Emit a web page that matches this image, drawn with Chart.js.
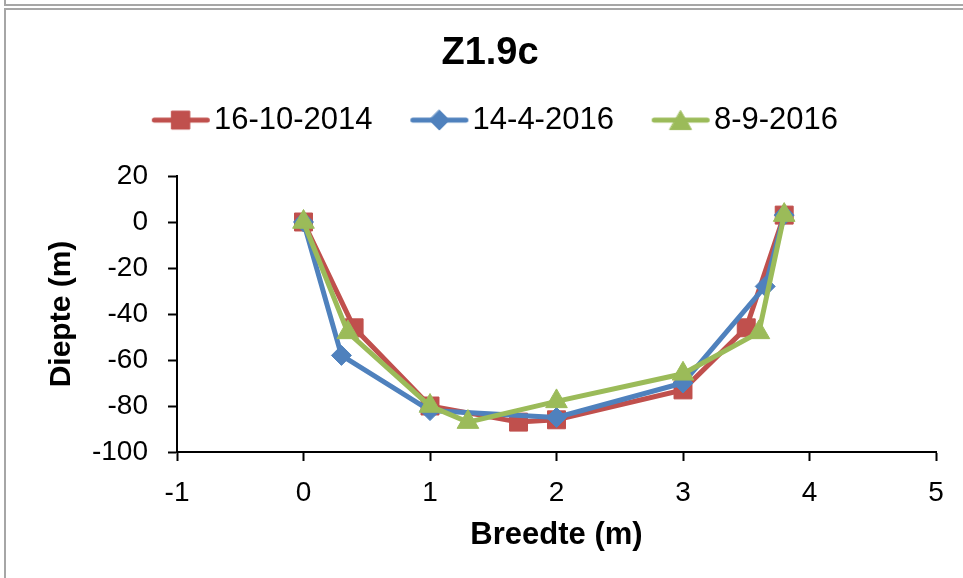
<!DOCTYPE html>
<html><head><meta charset="utf-8">
<script src="https://cdn.jsdelivr.net/npm/chart.js@4.4.1/dist/chart.umd.min.js"></script>
<style>
html,body{margin:0;padding:0;background:#fff;overflow:hidden;}
#wrap{position:relative;width:963px;height:578px;overflow:hidden;}
#c{position:absolute;left:0;top:0;}
.f1{position:absolute;left:4px;top:-14px;width:1000px;height:16px;border:2px solid #a6a6a6;}
.f2{position:absolute;left:4px;top:8px;width:1000px;height:600px;border:2px solid #a6a6a6;}
</style></head><body>
<div id="wrap"><div class="f1"></div><div class="f2"></div><canvas id="c" width="963" height="578"></canvas></div>
<script>
// ---- data ----
const chartTitle = 'Z1.9c';
const seriesNames = ['16-10-2014', '14-4-2016', '8-9-2016'];
const redX = [0, 0.4, 1, 1.7, 2, 3, 3.5, 3.8];
const redY = [0, -46, -80, -87, -86, -73, -46, 3];
const blueX = [0, 0.3, 1, 2, 3, 3.65, 3.8];
const blueY = [0, -58, -82, -85, -70, -28, 3];
const greenX = [0, 0.35, 1, 1.3, 2, 3, 3.6, 3.8];
const greenY = [0, -48, -80, -87, -78, -66, -48, 3];
const xTickValues = [-1, 0, 1, 2, 3, 4, 5];
const yTickValues = [-100, -80, -60, -40, -20, 0, 20];
const xTitle = 'Breedte (m)';
const yTitle = 'Diepte (m)';

// ---- styles ----
const colors = ['#C0504D', '#4F81BD', '#9BBB59'];
const styles = ['rect', 'rectRot', 'triangle'];
const radii = [12.7, 10, 12.5];

function pts(xs, ys) { return xs.map((x, i) => ({x: x, y: ys[i]})); }

function legendIcon(color, style, r) {
  const W = 83, H = 30;
  const c = document.createElement('canvas');
  c.width = W; c.height = H;
  const ctx = c.getContext('2d');
  const x0 = W - 60, x1 = W - 2, cy = H / 2;
  ctx.strokeStyle = color; ctx.fillStyle = color;
  ctx.lineWidth = 5; ctx.lineCap = 'round';
  ctx.beginPath(); ctx.moveTo(x0 + 2.5, cy); ctx.lineTo(x1 - 2.5, cy); ctx.stroke();
  const cx = (x0 + x1) / 2;
  ctx.lineWidth = 1;
  ctx.beginPath();
  if (style === 'rect') {
    const s = r * Math.SQRT1_2;
    ctx.rect(cx - s, cy - s, 2 * s, 2 * s);
  } else if (style === 'rectRot') {
    ctx.moveTo(cx, cy - r); ctx.lineTo(cx + r, cy); ctx.lineTo(cx, cy + r); ctx.lineTo(cx - r, cy); ctx.closePath();
  } else {
    const w = r * Math.sqrt(3) / 2;
    ctx.moveTo(cx, cy - r * 0.75); ctx.lineTo(cx + w, cy + r * 0.75); ctx.lineTo(cx - w, cy + r * 0.75); ctx.closePath();
  }
  ctx.fill(); ctx.stroke();
  return c;
}
const icons = colors.map((c, i) => legendIcon(c, styles[i], radii[i]));

const spacer = {
  id: 'spacer',
  beforeInit(chart) {
    Chart.layouts.addBox(chart, {
      position: 'top', weight: -10, fullSize: true, options: {},
      top: 0, left: 0, right: 0, bottom: 0, width: 0, height: 0,
      isHorizontal() { return true; },
      update(maxWidth) { this.width = maxWidth; this.height = 30.4; },
      draw() {}
    });
  }
};

const datasets = [
  {xs: redX, ys: redY}, {xs: blueX, ys: blueY}, {xs: greenX, ys: greenY}
].map((s, i) => ({
  label: seriesNames[i],
  data: pts(s.xs, s.ys),
  showLine: true,
  borderColor: colors[i],
  backgroundColor: colors[i],
  borderWidth: 5,
  pointStyle: styles[i],
  pointRadius: radii[i],
  pointHoverRadius: radii[i],
  pointBorderWidth: 1,
  pointBorderColor: colors[i],
  pointBackgroundColor: colors[i],
  tension: 0,
  order: 3 - i
}));

new Chart(document.getElementById('c'), {
  type: 'scatter',
  data: {datasets: datasets},
  plugins: [spacer],
  options: {
    responsive: false,
    animation: false,
    devicePixelRatio: 1,
    events: [],
    layout: {padding: {top: 10, left: 44, right: 27, bottom: 0}},
    plugins: {
      tooltip: {enabled: false},
      title: {
        display: true, text: chartTitle, color: '#000',
        font: {family: 'Liberation Sans, Arial, sans-serif', size: 38, weight: 'bold'},
        padding: {top: 21, bottom: 0}
      },
      legend: {
        display: true, position: 'top',
        labels: {
          color: '#000',
          font: {family: 'Liberation Sans, Arial, sans-serif', size: 31},
          usePointStyle: true,
          pointStyleWidth: 56.5,
          padding: 28,
          generateLabels(chart) {
            const items = Chart.defaults.plugins.legend.labels.generateLabels(chart);
            items.sort((a, b) => a.datasetIndex - b.datasetIndex);
            items.forEach(it => { it.pointStyle = icons[it.datasetIndex]; it.fontColor = '#000'; });
            return items;
          }
        }
      }
    },
    scales: {
      x: {
        type: 'linear', min: -1, max: 5,
        afterFit(s) { s.height = 126; },
        afterBuildTicks(s) { s.ticks = xTickValues.map(v => ({value: v})); },
        ticks: {color: '#000', padding: 15, font: {family: 'Liberation Sans, Arial, sans-serif', size: 28}},
        grid: {display: true, drawOnChartArea: false, drawTicks: true, tickLength: 9, tickWidth: 2, tickColor: '#000'},
        border: {display: true, color: '#000', width: 2},
        title: {display: true, text: xTitle, color: '#000', padding: {top: 0, bottom: 24}, font: {family: 'Liberation Sans, Arial, sans-serif', size: 31, weight: 'bold'}}
      },
      y: {
        type: 'linear', min: -100, max: 20,
        afterFit(s) { s.width = 133; },
        afterBuildTicks(s) { s.ticks = yTickValues.map(v => ({value: v})); },
        ticks: {color: '#000', padding: 20, font: {family: 'Liberation Sans, Arial, sans-serif', size: 28}},
        grid: {display: true, drawOnChartArea: false, drawTicks: true, tickLength: 9, tickWidth: 2, tickColor: '#000'},
        border: {display: true, color: '#000', width: 2},
        title: {display: true, text: yTitle, color: '#000', padding: {top: 0, bottom: 0}, font: {family: 'Liberation Sans, Arial, sans-serif', size: 30, weight: 'bold'}}
      }
    }
  }
});
</script>
</body></html>
